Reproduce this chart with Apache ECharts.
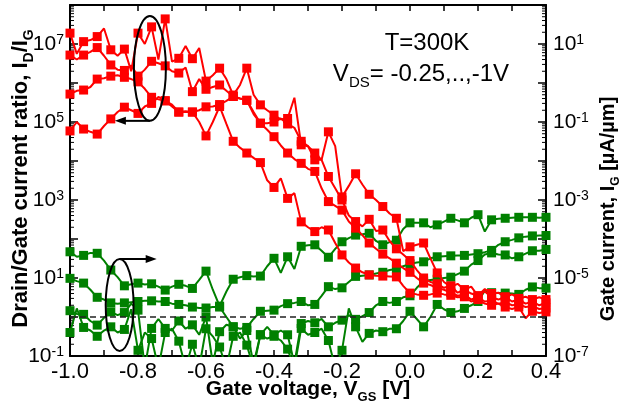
<!DOCTYPE html>
<html>
<head>
<meta charset="utf-8">
<script src="https://cdn.jsdelivr.net/npm/echarts@6/dist/echarts.min.js"></script>
<style>
html, body { margin: 0; padding: 0; background: #fff; }
#chart { width: 632px; height: 407px; }
</style>
</head>
<body>
<div id="chart"></div>
<script>
// Gate-voltage sweep: 20 mV steps from -1.0 V to 0.4 V
const VGS_START = -1.0, VGS_STEP = 0.02, N_POINTS = 71;
const vgs = [];
for (let i = 0; i < N_POINTS; i++) vgs.push(+(VGS_START + VGS_STEP * i).toFixed(2));

// Drain/gate current ratio I_D/I_G, one curve per drain bias
const ratioA = [1.9e7,5.6e6,1.15e7,1.26e7,1.55e7,2.5e7,7.1e6,5.0e6,7.4e6,2.0e6,
  1.9e7,1.0e7,2.75e7,4.0e6,4.4e7,3.55e6,4.3e6,8.9e6,4.2e6,7.9e6,
  1.12e6,1.58e6,2.4e6,1.26e6,4.9e5,8.9e5,2.4e6,5.0e5,2.75e5,2.0e5,
  1.5e5,1.17e5,1.23e5,4.2e5,2.6e4,2.4e4,1.07e4,1.07e4,5.6e4,2.4e4,
  1.2e3,2.3e3,4.7e3,2.5e3,1.4e3,1.0e3,680,450,340,49,
  63,71,79,32,13.5,7.9,5.9,7.1,5.0,6.0,
  3.5,5.2,4.0,4.2,3.2,3.8,3.0,3.3,2.8,3.2,2.8];
const ratioB = [5.2e6,4.0e6,5.2e6,6.3e6,8.1e6,5.0e6,2.9e6,2.2e6,2.1e6,2.8e6,
  1.5e6,2.2e6,3.6e6,3.2e6,2.75e6,2.0e6,1.8e6,2.5e6,6.0e5,1.26e6,
  6.9e5,7.9e5,8.9e5,6.3e5,4.5e5,4.0e5,3.6e5,1.6e5,9.3e4,9.3e4,
  1.0e5,1.23e5,8.9e4,7.1e4,3.2e4,2.4e4,1.6e4,1.07e4,4.0e3,2.0e3,
  1.0e3,400,280,210,320,160,170,89,56,40,
  28,16,10,7.9,7.1,5.6,6.3,4.2,5.0,4.0,
  3.5,4.5,3.2,2.8,3.3,2.5,2.8,2.2,2.5,2.0,2.3];
const ratioC = [5.2e5,6.3e5,6.6e5,7.9e5,1.26e6,1.32e6,1.5e6,1.58e6,1.4e6,1.26e6,
  1.07e6,7.1e5,4.3e5,3.8e5,3.5e5,2.5e5,1.8e5,1.9e5,1.8e5,2.0e5,
  2.45e5,2.5e5,2.8e5,3.5e5,4.5e5,4.0e5,3.6e5,1.8e5,9.3e4,6.3e4,
  4.2e4,2.5e4,1.6e4,1.12e4,8.7e3,6.3e3,5.4e3,2.0e3,910,710,
  550,280,190,126,79,56,41,32,24,18,
  14,10,7.4,6.6,5.6,5.0,4.2,3.5,3.8,2.8,
  3.2,2.5,2.6,2.2,2.4,2.0,2.1,1.8,1.9,1.6,1.7];
const ratioD = [5.9e4,1.0e5,6.6e4,5.6e4,4.9e4,7.9e4,1.2e5,1.8e5,2.4e5,2.0e5,
  1.66e5,2.5e5,3.0e5,4.4e5,3.5e5,2.8e5,1.8e5,1.8e5,1.8e5,1.0e5,
  4.4e4,1.0e5,2.5e5,8.9e4,3.2e4,2.2e4,1.6e4,1.2e4,9.1e3,3.2e3,
  2.1e3,3.6e3,1.1e3,1.5e3,275,200,155,200,170,79,
  39,25,18,14,12,11.5,11.2,11,10.7,6.3,
  4.1,3.8,3.6,3.8,4.1,3.8,3.6,3.2,3.3,2.5,
  2.8,2.2,2.0,2.2,1.8,1.6,1.8,0.93,1.4,1.26,1.35];

// Gate current I_G in uA/um, one curve per drain bias
const gateA = [4.7e-5,3.5e-5,3.8e-5,4.4e-5,4.3e-5,2.8e-5,1.6e-5,1.05e-5,6.3e-6,6.9e-6,
  7.4e-6,6.8e-6,7.1e-6,6.0e-6,4.9e-6,6.0e-6,6.9e-6,6.3e-6,5.4e-6,8.9e-6,
  1.5e-5,5.0e-6,1.9e-6,4.5e-6,9.3e-6,1.05e-5,1.15e-5,1.1e-5,1.12e-5,2.0e-5,
  3.2e-5,1.35e-5,3.5e-5,1.7e-5,6.5e-5,6.9e-5,7.1e-5,5.0e-5,3.4e-5,5.6e-5,
  8.5e-5,1.05e-4,1.26e-4,1.32e-4,1.4e-4,8.9e-5,7.1e-5,8.3e-5,9.3e-5,1.8e-4,
  2.6e-4,2.6e-4,2.6e-4,2.0e-4,2.3e-4,2.8e-4,3.4e-4,3.0e-4,2.6e-4,3.5e-4,
  4.2e-4,1.55e-4,3.1e-4,3.3e-4,3.4e-4,3.5e-4,3.6e-4,3.6e-4,3.6e-4,3.5e-4,3.6e-4];
const gateB = [9.8e-6,8.3e-6,7.4e-6,5.0e-6,3.2e-6,2.8e-6,2.3e-6,2.2e-6,2.3e-6,2.4e-6,
  2.5e-6,2.6e-6,2.6e-6,2.5e-6,2.5e-6,2.2e-6,2.1e-6,2.0e-6,1.8e-6,1.7e-6,
  1.7e-6,1.8e-6,1.8e-6,1.0e-6,5.6e-7,5.0e-7,5.4e-7,8.9e-7,1.4e-6,1.45e-6,
  1.5e-6,1.9e-6,2.2e-6,2.3e-6,2.5e-6,2.0e-6,2.1e-6,3.5e-6,6.0e-6,5.2e-6,
  5.6e-6,7.9e-6,1.1e-5,1.15e-5,1.2e-5,1.3e-5,1.4e-5,1.6e-5,1.7e-5,2.0e-5,
  2.3e-5,2.5e-5,2.6e-5,3.2e-5,3.5e-5,3.6e-5,3.7e-5,3.8e-5,3.8e-5,4.0e-5,
  4.2e-5,4.6e-5,5.1e-5,7.1e-5,8.5e-5,9.5e-5,1.07e-4,1.15e-4,1.2e-4,1.23e-4,1.23e-4];
const gateC = [1.45e-6,1.2e-6,1.17e-6,7.9e-7,6.2e-7,9.5e-7,1.35e-6,1.12e-6,1.3e-6,2.2e-6,
  1.5e-6,5.0e-8,5.1e-7,8.9e-7,5.1e-7,4.5e-7,7.9e-7,5.0e-7,6.3e-7,3.5e-7,
  1.0e-6,6.3e-8,4.2e-7,6.3e-7,5.6e-7,2.8e-7,4.5e-7,6.3e-8,3.5e-7,5.6e-7,
  3.5e-7,4.5e-7,3.5e-7,6.3e-8,6.8e-7,7.9e-7,7.1e-7,8.9e-7,5.6e-7,7.1e-7,
  8.3e-7,1.12e-6,8.7e-7,1.05e-6,1.3e-6,2.0e-6,2.5e-6,2.3e-6,2.5e-6,3.2e-6,
  3.5e-6,5.6e-6,8.3e-6,8.9e-6,9.3e-6,1.0e-5,1.05e-5,1.26e-5,1.5e-5,2.2e-5,
  2.8e-5,4.0e-5,4.4e-5,4.0e-5,3.9e-5,3.2e-5,3.5e-5,4.2e-5,5.0e-5,5.0e-5,5.4e-5];
const gateD = [4.0e-7,1.66e-6,5.4e-7,4.5e-7,3.2e-7,4.5e-7,5.6e-7,4.0e-7,4.8e-7,1.58e-6,
  1.4e-7,4.0e-7,2.8e-7,5.0e-8,4.0e-7,5.0e-7,2.4e-7,5.0e-8,2.0e-7,5.0e-8,
  5.0e-7,3.2e-7,1.7e-7,5.0e-8,3.2e-7,4.0e-7,1.9e-7,5.0e-8,3.5e-7,2.8e-7,
  3.2e-7,2.5e-7,1.5e-7,5.0e-8,5.1e-7,3.5e-7,4.0e-7,5.0e-7,2.5e-7,5.0e-8,
  1.4e-7,1.66e-6,5.6e-7,2.3e-7,3.8e-7,4.5e-7,4.2e-7,5.0e-7,5.0e-7,7.9e-7,
  1.4e-6,8.9e-7,5.6e-7,1.0e-6,2.1e-6,1.58e-6,1.3e-6,1.4e-6,1.66e-6,2.0e-6,
  2.5e-6,4.7e-6,4.2e-6,4.1e-6,4.1e-6,4.0e-6,3.8e-6,5.0e-6,5.9e-6,5.5e-6,5.5e-6];

// Axis ranges and labelled tick values
const VGS_MIN = -1.0, VGS_MAX = 0.4, VGS_TICK = 0.1;
const RATIO_MIN = 1e-1, RATIO_MAX = 1e8;
const GATE_MIN = 1e-7, GATE_MAX = 1e2;
const RATIO_LABEL_EXPS = [-1, 1, 3, 5, 7];
const GATE_LABEL_EXPS = [-7, -5, -3, -1, 1];
const VGS_LABELS = ['-1.0', '-0.8', '-0.6', '-0.4', '-0.2', '0.0', '0.2', '0.4'];
const RATIO_UNITY = 1;

const FONT = '"Liberation Sans", Arial, Helvetica, sans-serif';
const RED = '#ff0000';
const GREEN = '#008000';
const BLACK = '#000000';

const chart = echarts.init(document.getElementById('chart'), null, { renderer: 'canvas' });

// squares on every other sweep point, plain line through the rest
const everyOtherSquare = (val, params) => (params.dataIndex % 2 === 0 ? 'rect' : 'none');

function curve(values, color, yAxisIndex, z) {
  return {
    type: 'line',
    xAxisIndex: 0,
    yAxisIndex: yAxisIndex,
    data: vgs.map((v, i) => [v, values[i]]),
    symbol: everyOtherSquare,
    symbolSize: 9,
    showAllSymbol: true,
    clip: true,
    z: z,
    lineStyle: { color: color, width: 2 },
    itemStyle: { color: color, borderWidth: 0 },
    emphasis: { disabled: true },
    animation: false
  };
}

const supRich = {
  b: { fontSize: 21, color: BLACK, fontFamily: FONT, lineHeight: 21, verticalAlign: 'bottom' },
  s: { fontSize: 14, color: BLACK, fontFamily: FONT, lineHeight: 4, verticalAlign: 'top' }
};
function powLabel(exps) {
  return function (v) {
    const e = Math.round(Math.log10(v));
    return exps.indexOf(e) >= 0 ? '{b|10}{s|' + e + '}' : '';
  };
}

// log-decade minor ticks (2..9 x 10^k) drawn on both vertical frame edges
const minorTickVals = [];
for (let k = -1; k < 8; k++) {
  for (let m = 2; m <= 9; m++) minorTickVals.push([VGS_MIN, m * Math.pow(10, k)]);
}

const frameLine = { show: true, onZero: false, lineStyle: { color: BLACK, width: 2 } };

const option = {
  animation: false,
  backgroundColor: '#ffffff',
  textStyle: { fontFamily: FONT },
  grid: { left: 70, right: 86, top: 5, bottom: 51, containLabel: false },
  xAxis: [
    {
      type: 'value', position: 'bottom', min: VGS_MIN, max: VGS_MAX, interval: VGS_TICK,
      axisLine: frameLine,
      axisTick: { inside: true, length: 6, lineStyle: { color: BLACK, width: 1.5 } },
      splitLine: { show: false },
      axisLabel: {
        margin: 5, fontSize: 22, color: BLACK, fontFamily: FONT,
        formatter: function (v) {
          const t = Math.round(v * 10);
          if (t % 2 !== 0) return '';
          return VGS_LABELS[(t + 10) / 2] || '';
        }
      }
    },
    {
      type: 'value', position: 'top', min: VGS_MIN, max: VGS_MAX, interval: VGS_TICK,
      axisLine: frameLine,
      axisTick: { inside: true, length: 6, lineStyle: { color: BLACK, width: 1.5 } },
      splitLine: { show: false },
      axisLabel: { show: false }
    }
  ],
  yAxis: [
    {
      type: 'log', logBase: 10, position: 'left', min: RATIO_MIN, max: RATIO_MAX,
      axisLine: frameLine,
      axisTick: { inside: true, length: 8, lineStyle: { color: BLACK, width: 1.5 } },
      splitLine: { show: false },
      minorTick: { show: false },
      axisLabel: { margin: 6, formatter: powLabel(RATIO_LABEL_EXPS), rich: supRich }
    },
    {
      type: 'log', logBase: 10, position: 'right', min: GATE_MIN, max: GATE_MAX,
      axisLine: frameLine,
      axisTick: { inside: true, length: 8, lineStyle: { color: BLACK, width: 1.5 } },
      splitLine: { show: false },
      minorTick: { show: false },
      axisLabel: { margin: 7, formatter: powLabel(GATE_LABEL_EXPS), rich: supRich }
    }
  ],
  series: [
    {
      type: 'custom', xAxisIndex: 0, yAxisIndex: 0, silent: true, clip: false, z: 1,
      data: minorTickVals,
      renderItem: function (params, api) {
        const y = api.coord([api.value(0), api.value(1)])[1];
        const cs = params.coordSys;
        return {
          type: 'group',
          children: [
            { type: 'line', shape: { x1: cs.x, y1: y, x2: cs.x + 4, y2: y }, style: { stroke: BLACK, lineWidth: 1 } },
            { type: 'line', shape: { x1: cs.x + cs.width - 4, y1: y, x2: cs.x + cs.width, y2: y }, style: { stroke: BLACK, lineWidth: 1 } }
          ]
        };
      }
    },
    curve(gateA, GREEN, 1, 2),
    curve(gateB, GREEN, 1, 2),
    curve(gateC, GREEN, 1, 2),
    curve(gateD, GREEN, 1, 2),
    curve(ratioA, RED, 0, 3),
    curve(ratioB, RED, 0, 3),
    curve(ratioC, RED, 0, 3),
    Object.assign(curve(ratioD, RED, 0, 3), {
      markLine: {
        silent: true, symbol: 'none', animation: false,
        label: { show: false },
        lineStyle: { color: '#222', type: [6, 4], width: 1.5 },
        data: [{ yAxis: RATIO_UNITY }]
      }
    })
  ]
};
chart.setOption(option);

// Annotations anchored in (V_GS, I_D/I_G) coordinates
const toPx = (v, r) => chart.convertToPixel({ xAxisIndex: 0, yAxisIndex: 0 }, [v, r]);

function ellipseAround(v0, v1, rTop, rBottom) {
  const a = toPx(v0, rTop), b = toPx(v1, rBottom);
  return {
    type: 'ellipse', z: 10, silent: true,
    shape: { cx: (a[0] + b[0]) / 2, cy: (a[1] + b[1]) / 2, rx: Math.abs(b[0] - a[0]) / 2, ry: Math.abs(b[1] - a[1]) / 2 },
    style: { fill: 'none', stroke: BLACK, lineWidth: 2 }
  };
}
function arrow(vFrom, vTo, r) {
  const p0 = toPx(vFrom, r), p1 = toPx(vTo, r);
  const dir = p1[0] > p0[0] ? 1 : -1;
  const head = 11, half = 4;
  return [
    { type: 'line', z: 10, silent: true, shape: { x1: p0[0], y1: p0[1], x2: p1[0] - dir * head * 0.6, y2: p1[1] }, style: { stroke: BLACK, lineWidth: 2 } },
    { type: 'polygon', z: 10, silent: true, shape: { points: [[p1[0], p1[1]], [p1[0] - dir * head, p1[1] - half], [p1[0] - dir * head, p1[1] + half]] }, style: { fill: BLACK } }
  ];
}

const subRich = (size, bold) => ({
  t: { fontSize: size, fontWeight: bold ? 'bold' : 'normal', fontFamily: FONT, color: BLACK, lineHeight: size + 4, verticalAlign: 'top' },
  s: { fontSize: Math.round(size * 0.62), fontWeight: bold ? 'bold' : 'normal', fontFamily: FONT, color: BLACK, lineHeight: 8, verticalAlign: 'bottom' }
});

const grid = chart.getModel().getComponent('grid').coordinateSystem.getRect();

chart.setOption({
  graphic: [
    ellipseAround(-0.812, -0.718, 5.25e7, 1.07e5),
    ...arrow(-0.765, -0.868, 1.07e5),
    ellipseAround(-0.895, -0.813, 30.7, 0.134),
    ...arrow(-0.853, -0.745, 30.7),
    {
      type: 'text', z: 10, silent: true, x: 427, y: 43,
      style: { text: 'T=300K', fontSize: 24, fontFamily: FONT, fill: BLACK, align: 'center', verticalAlign: 'middle' }
    },
    {
      type: 'text', z: 10, silent: true, x: 421, y: 76,
      style: { text: '{t|V}{s|DS}{t|= -0.25,..,-1V}', rich: subRich(24, false), align: 'center', verticalAlign: 'middle' }
    },
    {
      type: 'text', z: 10, silent: true, x: grid.x + grid.width / 2, y: 391,
      style: { text: '{t|Gate voltage, V}{s|GS}{t| [V]}', rich: subRich(21, true), align: 'center', verticalAlign: 'middle' }
    },
    {
      type: 'text', z: 10, silent: true, x: 23, y: grid.y + grid.height / 2 - 2, rotation: Math.PI / 2,
      style: { text: '{t|Drain/Gate current ratio, I}{s|D}{t|/I}{s|G}', rich: subRich(22, true), align: 'center', verticalAlign: 'middle' }
    },
    {
      type: 'text', z: 10, silent: true, x: 610, y: 209, rotation: Math.PI / 2,
      style: { text: '{t|Gate current, I}{s|G}{t| [\u00b5A/\u00b5m]}', rich: subRich(20, true), align: 'center', verticalAlign: 'middle' }
    }
  ]
});
</script>
</body>
</html>
